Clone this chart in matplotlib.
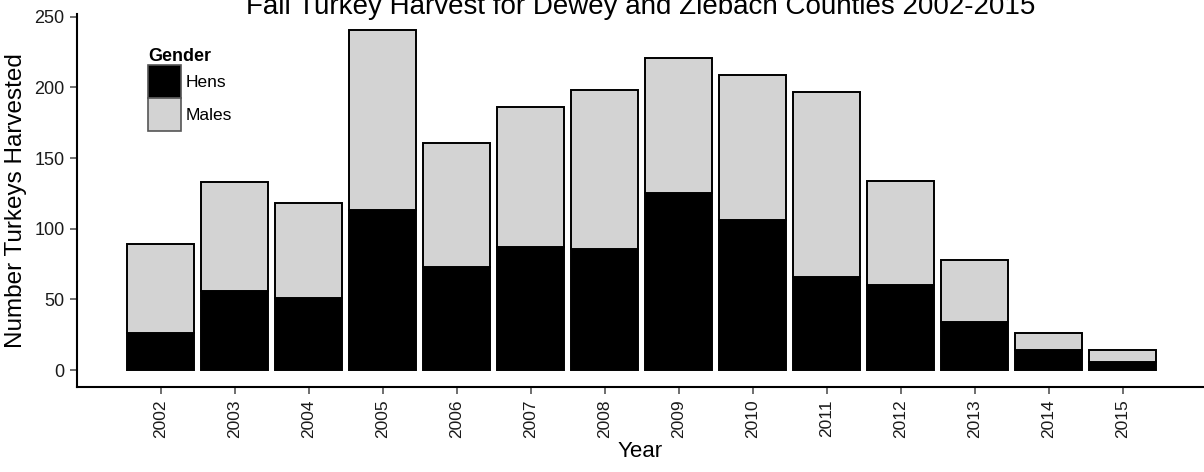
import matplotlib
matplotlib.use("Agg")
import matplotlib.pyplot as plt
from matplotlib.patches import Patch
import numpy as np

plt.rcParams['font.family'] = ['Liberation Sans', 'DejaVu Sans']

years = ['2002', '2003', '2004', '2005', '2006', '2007', '2008',
         '2009', '2010', '2011', '2012', '2013', '2014', '2015']
totals = [89, 133, 118, 241, 161, 186, 198, 221, 209, 197, 134, 78, 26, 14]
hens = [26, 56, 51, 113, 73, 87, 86, 125, 106, 66, 60, 34, 14, 6]
males = [t - h for t, h in zip(totals, hens)]
yticks = [0, 50, 100, 150, 200, 250]

W, H = 1204, 472
fig = plt.figure(figsize=(W / 100, H / 100), dpi=100)
left, right, bottom, top = 77, 1204, 387, 14
ax = fig.add_axes([left / W, 1 - bottom / H, (right - left) / W, (bottom - top) / H])

x = np.arange(len(years))
ax.bar(x, hens, width=0.9, color='black', edgecolor='black', linewidth=1.4, zorder=2)
ax.bar(x, males, width=0.9, bottom=hens, color='#d3d3d3', edgecolor='black', linewidth=1.4, zorder=2)

ax.set_xlim(-1.13, 14.1)
ax.set_ylim(-12, 252)
ax.set_xticks(x)
ax.set_xticklabels(years, rotation=90, fontsize=12.5)
ax.set_yticks(yticks)
ax.set_yticklabels([str(v) for v in yticks], fontsize=13)
ax.tick_params(axis='both', direction='out', length=5, width=1.2, color='#555555', labelcolor='#1a1a1a', pad=4)

for s in ['top', 'right']:
    ax.spines[s].set_visible(False)
for s in ['left', 'bottom']:
    ax.spines[s].set_linewidth(1.5)
    ax.spines[s].set_color('black')

ax.set_ylabel('Number Turkeys Harvested', fontsize=17.5, labelpad=5)
ax.set_xlabel('Year', fontsize=16, labelpad=2)

fig.text(641 / W, 1 - 14 / H, 'Fall Turkey Harvest for Dewey and Ziebach Counties 2002-2015',
         ha='center', va='baseline', fontsize=20)

handles = [Patch(facecolor='black', edgecolor='#555555', linewidth=1.2),
           Patch(facecolor='#d3d3d3', edgecolor='#555555', linewidth=1.2)]
leg = ax.legend(handles, ['Hens', 'Males'], title='Gender', loc='upper left',
                bbox_to_anchor=(0.063, 0.909), frameon=False, fontsize=12.5,
                title_fontproperties={'weight': 'bold', 'size': 13},
                handlelength=1.9, handleheight=2.55, labelspacing=0.0,
                handletextpad=0.25, borderpad=0, borderaxespad=0)
leg._legend_box.align = 'left'

fig.savefig('out.png', dpi=100)
